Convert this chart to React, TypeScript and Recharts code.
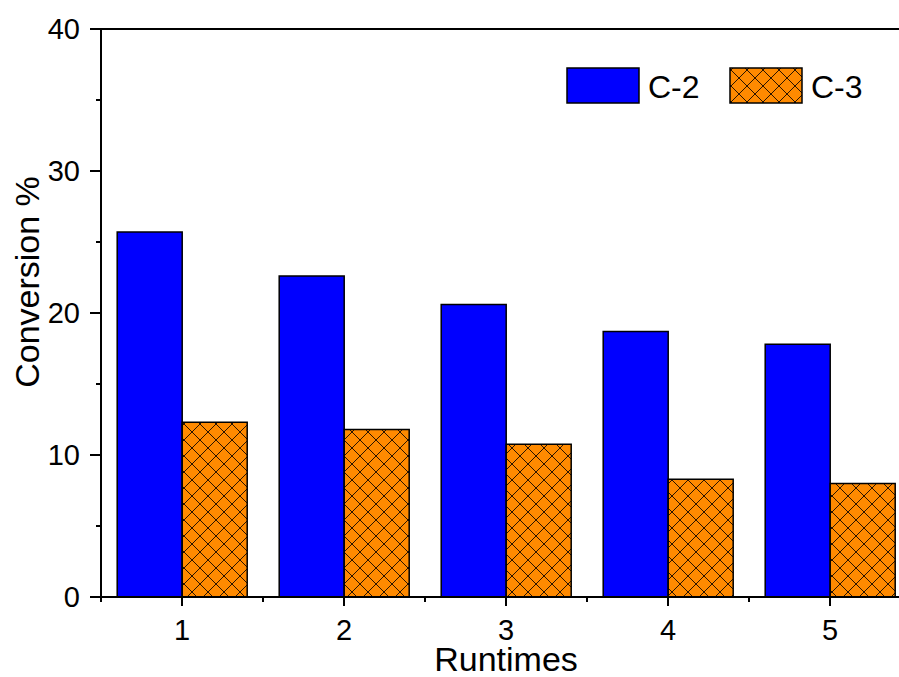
import React from "react";
import { BarChart, Bar, XAxis, YAxis, Legend, ReferenceLine } from "recharts";

const runs = ["1", "2", "3", "4", "5"];
const c2 = [25.7, 22.6, 20.6, 18.7, 17.8];
const c3 = [12.3, 11.8, 10.75, 8.3, 8.0];
const yTicks = [0, 5, 10, 15, 20, 25, 30, 35, 40];

const data = runs.map((run, i) => ({ run, c2: c2[i], c3: c3[i] }));

const FONT = "'Liberation Sans', Arial, sans-serif";
const ORANGE = "#FF8A00";
const BLUE = "#0000FF";

const series = [
  { key: "c2", name: "C-2", fill: BLUE },
  { key: "c3", name: "C-3", fill: "url(#hatchLegend)" },
];

function Hatch({ id }: { id: string }) {
  return (
    <pattern id={id} width={16} height={16} patternUnits="userSpaceOnUse">
      <rect width={16} height={16} fill={ORANGE} />
      <path d="M0,0 L16,16 M16,0 L0,16" stroke="#2a1400" strokeWidth={1} />
    </pattern>
  );
}

const YTick = (props: any) => {
  const { x, y, payload } = props;
  const major = payload.value % 10 === 0;
  return (
    <g>
      <line x1={x} y1={y} x2={x - (major ? 11 : 5)} y2={y} stroke="#000" strokeWidth={2} />
      {major && (
        <text x={x - 21} y={y + 10} textAnchor="end" fontSize={29} fontFamily={FONT} fill="#000">
          {payload.value}
        </text>
      )}
    </g>
  );
};

const XTick = (props: any) => {
  const { x, y, payload, index, visibleTicksCount } = props;
  const half = payload.offset ?? 0;
  return (
    <g>
      <line x1={x} y1={y} x2={x} y2={y + 9} stroke="#000" strokeWidth={2} />
      <line x1={x - half} y1={y} x2={x - half} y2={y + 5} stroke="#000" strokeWidth={2} />
      {index === visibleTicksCount - 1 && (
        <line x1={x + half} y1={y} x2={x + half} y2={y + 5} stroke="#000" strokeWidth={2} />
      )}
      <text x={x} y={y + 43} textAnchor="middle" fontSize={29} fontFamily={FONT} fill="#000">
        {payload.value}
      </text>
    </g>
  );
};

const LegendBox = () => (
  <svg width={330} height={50} style={{ display: "block", overflow: "visible" }}>
    <defs>
      <Hatch id="hatchLegend" />
    </defs>
    {series.map((s, i) => (
      <g key={s.key} transform={`translate(${i * 163},0)`}>
        <rect x={7} y={6} width={72} height={35} fill={s.fill} stroke="#000" strokeWidth={1.5} />
        <text x={88} y={36} fontSize={32} fontFamily={FONT} fill="#000">
          {s.name}
        </text>
      </g>
    ))}
  </svg>
);

export default function App() {
  return (
    <div style={{ position: "absolute", left: 0, top: 0, width: 899, height: 677, overflow: "hidden", background: "#fff" }}>
      <BarChart
        width={920}
        height={677}
        data={data}
        margin={{ top: 29, right: 9, bottom: 0, left: 0 }}
        barCategoryGap="10%"
        barGap={0}
      >
        <defs>
          <Hatch id="hatchBar" />
        </defs>
        <XAxis
          dataKey="run"
          height={80}
          tickSize={0}
          tickMargin={0}
          interval={0}
          tick={<XTick />}
          axisLine={{ stroke: "#000", strokeWidth: 2 }}
          label={{
            content: ({ viewBox }: any) => (
              <text x={viewBox.x + viewBox.width / 2} y={671} textAnchor="middle" fontSize={34} fontFamily={FONT} fill="#000">
                Runtimes
              </text>
            ),
          }}
        />
        <YAxis
          type="number"
          domain={[0, 40]}
          ticks={yTicks}
          width={101}
          tickSize={0}
          tickMargin={0}
          interval={0}
          tick={<YTick />}
          axisLine={{ stroke: "#000", strokeWidth: 2 }}
          label={{
            content: () => (
              <text x={39} y={282} transform="rotate(-90 39 282)" textAnchor="middle" fontSize={34} fontFamily={FONT} fill="#000">
                Conversion %
              </text>
            ),
          }}
        />
        <ReferenceLine y={40} stroke="#000" strokeWidth={2} />
        <Legend
          content={<LegendBox />}
          wrapperStyle={{ position: "absolute", left: 560, top: 62, width: 330, height: 0, overflow: "visible" }}
        />
        <Bar dataKey="c2" name="C-2" fill={BLUE} stroke="#000" strokeWidth={1.5} isAnimationActive={false} />
        <Bar dataKey="c3" name="C-3" fill="url(#hatchBar)" stroke="#000" strokeWidth={1.5} isAnimationActive={false} />
      </BarChart>
    </div>
  );
}
